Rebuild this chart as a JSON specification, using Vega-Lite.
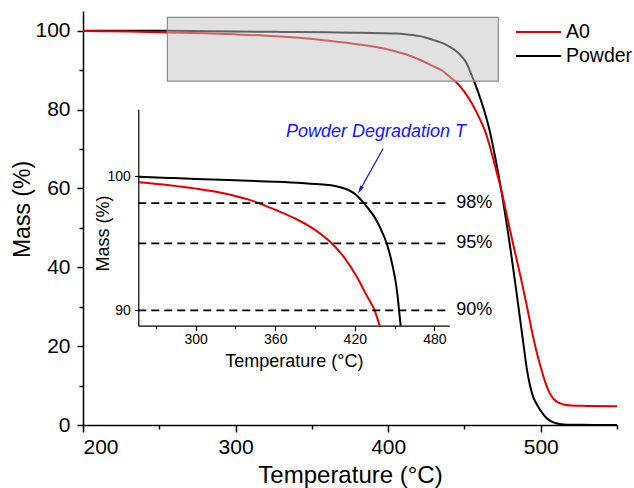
{
  "$schema": "https://vega.github.io/schema/vega-lite/v6.json",
  "width": 534,
  "height": 414,
  "autosize": {"type": "none"},
  "padding": {"left": 83, "top": 11, "right": 17, "bottom": 63},
  "config": {
    "font": "Liberation Sans",
    "view": {"stroke": null},
    "axis": {
      "grid": false,
      "domainColor": "#000000",
      "domainWidth": 1.5,
      "tickColor": "#000000",
      "tickWidth": 1.5,
      "labelColor": "#000000",
      "titleColor": "#000000",
      "labelFont": "Liberation Sans",
      "titleFont": "Liberation Sans",
      "titleFontWeight": "normal"
    },
    "legend": {
      "orient": "none",
      "legendX": 432,
      "legendY": 11,
      "symbolType": "stroke",
      "symbolSize": 2025,
      "symbolStrokeWidth": 2,
      "clipHeight": 20,
      "labelFontSize": 19.5,
      "labelFont": "Liberation Sans",
      "labelColor": "#000000",
      "rowPadding": 4,
      "labelOffset": 4,
      "padding": 0
    }
  },
  "datasets": {
    "curves": [
      {"series": "Powder", "T": 200, "mass": 100.0},
      {"series": "Powder", "T": 230, "mass": 99.99},
      {"series": "Powder", "T": 257, "mass": 99.97},
      {"series": "Powder", "T": 280, "mass": 99.88},
      {"series": "Powder", "T": 300, "mass": 99.8},
      {"series": "Powder", "T": 330, "mass": 99.7},
      {"series": "Powder", "T": 360, "mass": 99.6},
      {"series": "Powder", "T": 380, "mass": 99.5},
      {"series": "Powder", "T": 396, "mass": 99.38},
      {"series": "Powder", "T": 405, "mass": 99.27},
      {"series": "Powder", "T": 411, "mass": 99.13},
      {"series": "Powder", "T": 416, "mass": 98.94},
      {"series": "Powder", "T": 421.5, "mass": 98.57},
      {"series": "Powder", "T": 425, "mass": 98.2},
      {"series": "Powder", "T": 430, "mass": 97.62},
      {"series": "Powder", "T": 434, "mass": 97.1},
      {"series": "Powder", "T": 438, "mass": 96.4},
      {"series": "Powder", "T": 441, "mass": 95.75},
      {"series": "Powder", "T": 444.2, "mass": 94.95},
      {"series": "Powder", "T": 446, "mass": 94.35},
      {"series": "Powder", "T": 448, "mass": 93.55},
      {"series": "Powder", "T": 450, "mass": 92.6},
      {"series": "Powder", "T": 451.5, "mass": 91.7},
      {"series": "Powder", "T": 452.6, "mass": 90.8},
      {"series": "Powder", "T": 453.4, "mass": 90.0},
      {"series": "Powder", "T": 454.6, "mass": 88.85},
      {"series": "Powder", "T": 457, "mass": 86.5},
      {"series": "Powder", "T": 460, "mass": 83.3},
      {"series": "Powder", "T": 463, "mass": 79.7},
      {"series": "Powder", "T": 466, "mass": 75.5},
      {"series": "Powder", "T": 469, "mass": 70.2},
      {"series": "Powder", "T": 472, "mass": 64.2},
      {"series": "Powder", "T": 475, "mass": 57.6},
      {"series": "Powder", "T": 478, "mass": 50.3},
      {"series": "Powder", "T": 481, "mass": 42.4},
      {"series": "Powder", "T": 484, "mass": 34.0},
      {"series": "Powder", "T": 487, "mass": 25.4},
      {"series": "Powder", "T": 489, "mass": 19.6},
      {"series": "Powder", "T": 491, "mass": 14.0},
      {"series": "Powder", "T": 493, "mass": 10.0},
      {"series": "Powder", "T": 495, "mass": 7.2},
      {"series": "Powder", "T": 497.5, "mass": 5.2},
      {"series": "Powder", "T": 500, "mass": 3.6},
      {"series": "Powder", "T": 503, "mass": 2.1},
      {"series": "Powder", "T": 506, "mass": 1.1},
      {"series": "Powder", "T": 510, "mass": 0.45},
      {"series": "Powder", "T": 515, "mass": 0.12},
      {"series": "Powder", "T": 520, "mass": 0.05},
      {"series": "Powder", "T": 535, "mass": 0.02},
      {"series": "Powder", "T": 550, "mass": 0.0},
      {"series": "A0", "T": 200, "mass": 99.9},
      {"series": "A0", "T": 230, "mass": 99.8},
      {"series": "A0", "T": 257, "mass": 99.55},
      {"series": "A0", "T": 280, "mass": 99.33},
      {"series": "A0", "T": 300, "mass": 99.08},
      {"series": "A0", "T": 320, "mass": 98.75},
      {"series": "A0", "T": 341.7, "mass": 98.2},
      {"series": "A0", "T": 360, "mass": 97.5},
      {"series": "A0", "T": 375, "mass": 96.85},
      {"series": "A0", "T": 390, "mass": 96.0},
      {"series": "A0", "T": 402.6, "mass": 95.0},
      {"series": "A0", "T": 412, "mass": 93.95},
      {"series": "A0", "T": 421.5, "mass": 92.5},
      {"series": "A0", "T": 429, "mass": 91.1},
      {"series": "A0", "T": 435.3, "mass": 89.9},
      {"series": "A0", "T": 438.8, "mass": 88.85},
      {"series": "A0", "T": 441, "mass": 88.1},
      {"series": "A0", "T": 445, "mass": 86.8},
      {"series": "A0", "T": 450, "mass": 84.5},
      {"series": "A0", "T": 455, "mass": 81.5},
      {"series": "A0", "T": 460, "mass": 77.7},
      {"series": "A0", "T": 463.5, "mass": 74.6},
      {"series": "A0", "T": 467, "mass": 70.2},
      {"series": "A0", "T": 470, "mass": 65.8},
      {"series": "A0", "T": 474.4, "mass": 59.2},
      {"series": "A0", "T": 478, "mass": 52.8},
      {"series": "A0", "T": 482, "mass": 45.7},
      {"series": "A0", "T": 486, "mass": 39.0},
      {"series": "A0", "T": 488, "mass": 35.5},
      {"series": "A0", "T": 491, "mass": 30.0},
      {"series": "A0", "T": 495, "mass": 22.4},
      {"series": "A0", "T": 498, "mass": 17.5},
      {"series": "A0", "T": 500.6, "mass": 13.9},
      {"series": "A0", "T": 503, "mass": 10.8},
      {"series": "A0", "T": 506, "mass": 8.0},
      {"series": "A0", "T": 509, "mass": 6.4},
      {"series": "A0", "T": 512, "mass": 5.6},
      {"series": "A0", "T": 515, "mass": 5.2},
      {"series": "A0", "T": 520, "mass": 4.95},
      {"series": "A0", "T": 530, "mass": 4.85},
      {"series": "A0", "T": 550, "mass": 4.75}
    ],
    "box": [{"x0": 255.3, "x1": 472.2, "y0": 87.2, "y1": 103.4}],
    "levels": [
      {"level": 98, "label": "98%"},
      {"level": 95, "label": "95%"},
      {"level": 90, "label": "90%"}
    ]
  },
  "layer": [
    {
      "resolve": {"axis": {"x": "independent", "y": "independent"}},
      "layer": [
        {
          "data": {"name": "curves"},
          "mark": {"type": "line", "strokeWidth": 2, "interpolate": "monotone"},
          "encoding": {
            "x": {
              "field": "T", "type": "quantitative",
              "scale": {"domain": [200, 550], "nice": false, "zero": false},
              "axis": {
                "orient": "bottom",
                "title": "Temperature (°C)",
                "values": [200, 300, 400, 500],
                "tickSize": 7,
                "labelFontSize": 21,
                "titleFontSize": 24,
                "labelPadding": 4,
                "titlePadding": 6
              }
            },
            "y": {
              "field": "mass", "type": "quantitative",
              "scale": {"domain": [0, 105], "nice": false, "zero": false},
              "axis": {
                "orient": "left",
                "title": "Mass (%)",
                "values": [0, 20, 40, 60, 80, 100],
                "tickSize": 6,
                "labelFontSize": 21,
                "titleFontSize": 23,
                "labelPadding": 7,
                "titleX": -61,
                "titleY": 198,
                "titleBaseline": "middle",
                "titleAlign": "center"
              }
            },
            "color": {
              "field": "series", "type": "nominal",
              "scale": {"domain": ["A0", "Powder"], "range": ["#e00000", "#000000"]},
              "legend": {"title": null}
            }
          }
        },
        {
          "data": {"name": "box"},
          "mark": {"type": "rect", "fill": "#c4c4c4", "fillOpacity": 0.5, "stroke": "#8c8c8c", "strokeWidth": 1.2},
          "encoding": {
            "x": {
              "field": "x0", "type": "quantitative",
              "axis": {"orient": "bottom", "values": [250, 350, 450, 550], "labels": false, "domain": false, "tickSize": 4, "title": null}
            },
            "x2": {"field": "x1"},
            "y": {
              "field": "y0", "type": "quantitative",
              "axis": {"orient": "left", "values": [10, 30, 50, 70, 90], "labels": false, "domain": false, "tickSize": 4, "title": null}
            },
            "y2": {"field": "y1"}
          }
        }
      ]
    },
    {
      "resolve": {"axis": {"x": "independent", "y": "independent"}},
      "layer": [
        {
          "data": {"name": "curves"},
          "transform": [{"filter": "datum.T >= 256.7 && datum.mass >= 88.84"}],
          "mark": {"type": "line", "strokeWidth": 2, "interpolate": "monotone"},
          "encoding": {
            "x": {
              "field": "T", "type": "quantitative",
              "scale": {"domain": [256.7, 491.3], "range": [55.3, 366.3], "nice": false, "zero": false},
              "axis": {
                "orient": "bottom",
                "offset": -99.3,
                "title": "Temperature (°C)",
                "values": [300, 360, 420, 480],
                "tickSize": 5,
                "labelFontSize": 14,
                "titleFontSize": 18,
                "labelPadding": 2,
                "titlePadding": 6,
                "domainWidth": 1.2,
                "tickWidth": 1.2
              }
            },
            "y": {
              "field": "mass", "type": "quantitative",
              "scale": {"domain": [88.85, 105], "range": [314.7, 98.3], "nice": false, "zero": false},
              "axis": {
                "orient": "left",
                "offset": -55.3,
                "title": "Mass (%)",
                "values": [90, 100],
                "tickSize": 4,
                "labelFontSize": 14,
                "titleFontSize": 18,
                "labelPadding": 4,
                "titleX": -35,
                "titleY": 222,
                "titleBaseline": "middle",
                "titleAlign": "center",
                "domainWidth": 1.2,
                "tickWidth": 1.2
              }
            },
            "color": {"field": "series", "type": "nominal", "legend": null}
          }
        },
        {
          "data": {"name": "levels"},
          "mark": {"type": "rule", "strokeDash": [8, 5], "strokeWidth": 1.8, "color": "#000000"},
          "encoding": {
            "y": {"field": "level", "type": "quantitative", "axis": null},
            "x": {
              "datum": 256.7, "type": "quantitative",
              "axis": {"orient": "bottom", "offset": -99.3, "values": [270, 330, 390, 450], "labels": false, "domain": false, "tickSize": 3, "tickWidth": 1.2, "title": null}
            },
            "x2": {"datum": 490}
          }
        },
        {
          "data": {"name": "levels"},
          "mark": {"type": "text", "align": "left", "baseline": "middle", "fontSize": 18, "color": "#000000", "font": "Liberation Sans"},
          "encoding": {
            "y": {"field": "level", "type": "quantitative", "axis": null},
            "x": {"datum": 496.5, "type": "quantitative", "axis": null},
            "text": {"field": "label"}
          }
        },
        {
          "data": {"values": [{"label": "Powder Degradation T"}]},
          "mark": {"type": "text", "align": "center", "baseline": "middle", "fontSize": 18, "fontStyle": "italic", "color": "#1414ff", "font": "Liberation Sans"},
          "encoding": {
            "x": {"datum": 436, "type": "quantitative", "axis": null},
            "y": {"datum": 103.27, "type": "quantitative", "axis": null},
            "text": {"field": "label"}
          }
        },
        {
          "data": {"values": [{"label": "arrow"}]},
          "mark": {"type": "rule", "color": "#1414ff", "strokeWidth": 1.2},
          "encoding": {
            "x": {"datum": 441.3, "type": "quantitative", "axis": null},
            "y": {"datum": 102.06, "type": "quantitative", "axis": null},
            "x2": {"datum": 423.9},
            "y2": {"datum": 98.97}
          }
        },
        {
          "data": {"values": [{"label": "arrowhead"}]},
          "mark": {"type": "point", "shape": "M0,-1L0.45,1L-0.45,1Z", "filled": true, "size": 80, "angle": 209, "color": "#1414ff", "opacity": 1},
          "encoding": {
            "x": {"datum": 423.9, "type": "quantitative", "axis": null},
            "y": {"datum": 98.97, "type": "quantitative", "axis": null}
          }
        }
      ]
    }
  ],
  "resolve": {"scale": {"x": "independent", "y": "independent"}}
}
